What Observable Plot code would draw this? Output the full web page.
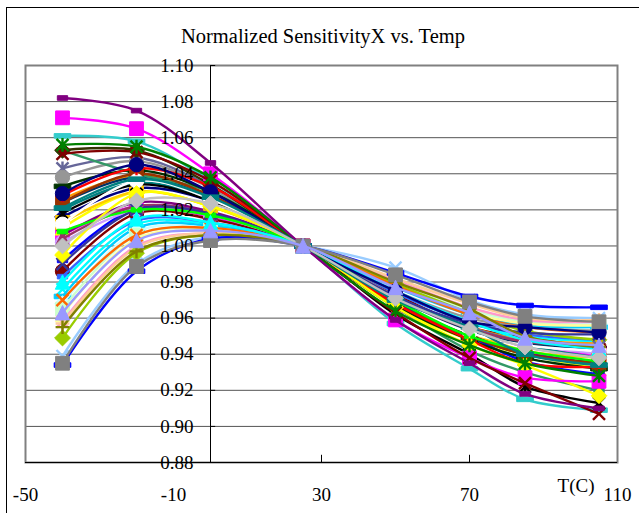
<!DOCTYPE html>
<html>
<head>
<meta charset="utf-8">
<script src="https://cdn.jsdelivr.net/npm/d3@7"></script>
<script src="https://cdn.jsdelivr.net/npm/@observablehq/plot@0.6"></script>
<style>
  body { margin: 0; background: #fff; }
  #wrap { position: relative; width: 639px; height: 513px; overflow: hidden; background: #fff; }
  #border { position: absolute; left: 6px; top: 7px; width: 640px; height: 530px; border: 1px solid #000; box-sizing: border-box; }
  #title { position: absolute; left: 0; top: 25px; width: 646px; text-align: center;
           font-family: "Liberation Serif", "Times New Roman", serif; font-size: 20.5px; color: #000; }
  #chart { position: absolute; left: 0; top: 0; }
</style>
</head>
<body>
<div id="wrap">
  <div id="border"></div>
  <div id="title">Normalized SensitivityX vs. Temp</div>
  <div id="chart"></div>
</div>
<script>
// ---- data ----
const temps = [-40, -20, 0, 25, 50, 70, 85, 105];
const xTicks = [-50, -10, 30, 70, 110];
const xMinorTicks = [30, 70];
const yTicks = [0.88, 0.90, 0.92, 0.94, 0.96, 0.98, 1.00, 1.02, 1.04, 1.06, 1.08, 1.10];

// normalized sensitivity for 48 parts, at each temperature above
const sensitivity = [
  [1.016, 1.032, 1.025, 1, 0.968, 0.950, 0.946, 0.944], // 1
  [1.006, 1.022, 1.016, 1, 0.972, 0.955, 0.944, 0.940], // 2
  [1.010, 1.030, 1.022, 1, 0.966, 0.948, 0.940, 0.932], // 3
  [0.976, 1.012, 1.012, 1, 0.974, 0.958, 0.950, 0.947], // 4
  [1.006, 1.024, 1.019, 1, 0.969, 0.950, 0.941, 0.935], // 5
  [0.986, 1.018, 1.015, 1, 0.973, 0.955, 0.949, 0.944], // 6
  [1.020, 1.035, 1.026, 1, 0.971, 0.954, 0.945, 0.938], // 7
  [0.992, 1.021, 1.018, 1, 0.969, 0.950, 0.936, 0.929], // 8
  [0.972, 1.010, 1.011, 1, 0.977, 0.962, 0.956, 0.955], // 9
  [0.968, 1.008, 1.010, 1, 0.978, 0.964, 0.958, 0.957], // 10
  [0.965, 1.006, 1.009, 1, 0.979, 0.965, 0.958, 0.956], // 11
  [0.962, 1.004, 1.008, 1, 0.978, 0.963, 0.957, 0.956], // 12
  [0.939, 0.990, 1.005, 1, 0.988, 0.970, 0.962, 0.960], // 13
  [0.958, 1.000, 1.007, 1, 0.981, 0.966, 0.959, 0.958], // 14
  [1.002, 1.020, 1.017, 1, 0.972, 0.954, 0.946, 0.940], // 15
  [0.957, 0.999, 1.007, 1, 0.982, 0.968, 0.960, 0.959], // 16
  [0.983, 1.014, 1.013, 1, 0.974, 0.958, 0.951, 0.948], // 17
  [1.061, 1.058, 1.036, 1, 0.957, 0.932, 0.915, 0.909], // 18
  [0.949, 0.996, 1.006, 1, 0.979, 0.963, 0.953, 0.948], // 19
  [1.013, 1.030, 1.022, 1, 0.970, 0.952, 0.942, 0.938], // 20
  [1.026, 1.039, 1.028, 1, 0.972, 0.955, 0.948, 0.946], // 21
  [0.970, 1.006, 1.010, 1, 0.978, 0.962, 0.955, 0.952], // 22
  [1.043, 1.049, 1.033, 1, 0.972, 0.955, 0.947, 0.944], // 23
  [1.038, 1.047, 1.032, 1, 0.975, 0.960, 0.955, 0.953], // 24
  [1.024, 1.038, 1.027, 1, 0.971, 0.953, 0.946, 0.943], // 25
  [1.053, 1.040, 1.030, 1, 0.966, 0.942, 0.930, 0.920], // 26
  [1.033, 1.042, 1.030, 1, 0.967, 0.948, 0.938, 0.932], // 27
  [1.053, 1.053, 1.034, 1, 0.970, 0.950, 0.940, 0.935], // 28
  [1.024, 1.040, 1.028, 1, 0.968, 0.950, 0.940, 0.935], // 29
  [1.004, 1.022, 1.018, 1, 0.971, 0.954, 0.947, 0.944], // 30
  [0.990, 1.020, 1.018, 1, 0.972, 0.957, 0.952, 0.951], // 31
  [1.018, 1.034, 1.025, 1, 0.962, 0.940, 0.922, 0.913], // 32
  [1.012, 1.036, 1.026, 1, 0.970, 0.952, 0.945, 0.942], // 33
  [1.028, 1.043, 1.033, 1, 0.968, 0.948, 0.935, 0.933], // 34
  [1.008, 1.020, 1.017, 1, 0.970, 0.950, 0.942, 0.936], // 35
  [0.934, 0.986, 1.004, 1, 0.985, 0.972, 0.967, 0.966], // 36
  [0.995, 1.029, 1.022, 1, 0.966, 0.945, 0.934, 0.917], // 37
  [1.071, 1.065, 1.040, 1, 0.959, 0.938, 0.927, 0.925], // 38
  [0.980, 1.015, 1.013, 1, 0.975, 0.958, 0.948, 0.943], // 39
  [1.051, 1.052, 1.036, 1, 0.963, 0.938, 0.924, 0.907], // 40
  [1.056, 1.055, 1.038, 1, 0.964, 0.945, 0.935, 0.928], // 41
  [1.029, 1.045, 1.030, 1, 0.975, 0.958, 0.955, 0.952], // 42
  [0.955, 0.997, 1.006, 1, 0.980, 0.965, 0.950, 0.944], // 43
  [1.082, 1.075, 1.046, 1, 0.959, 0.935, 0.918, 0.910], // 44
  [1.021, 1.037, 1.027, 1, 0.970, 0.955, 0.940, 0.934], // 45
  [1.000, 1.025, 1.0235, 1, 0.971, 0.954, 0.944, 0.938], // 46
  [0.935, 0.9886, 1.003, 1, 0.984, 0.969, 0.961, 0.958], // 47
  [0.963, 1.003, 1.0085, 1, 0.977, 0.963, 0.949, 0.945]  // 48
];

// ---- styles (Excel 2003 automatic series palette and marker cycle) ----
const palette = [
  "#000080","#FF00FF","#FFFF00","#00FFFF","#800080","#800000","#008080","#0000FF",
  "#00CCFF","#CCFFFF","#CCFFCC","#FFFF99","#99CCFF","#FF99CC","#CC99FF","#FFCC99",
  "#3366FF","#33CCCC","#99CC00","#FFCC00","#FF9900","#FF6600","#666699","#969696",
  "#003366","#339966","#003300","#333300","#993300","#993366","#333399",
  "#000000","#FFFFFF","#FF0000","#00FF00","#0000FF","#FFFF00","#FF00FF","#00FFFF",
  "#800000","#008000","#000080","#808000","#800080","#008080","#C0C0C0","#808080","#9999FF"
];
const markerCycle = ["diamond","square","triangle","x","star","circle","plus","dash","bar"];

const symbols = {
  diamond: {draw(c, s) { const h = Math.sqrt(s) * 0.55; c.moveTo(0, -h); c.lineTo(h, 0); c.lineTo(0, h); c.lineTo(-h, 0); c.closePath(); }},
  square:  {draw(c, s) { const h = Math.sqrt(s) * 0.48; c.rect(-h, -h, 2 * h, 2 * h); }},
  triangle:{draw(c, s) { const h = Math.sqrt(s) * 0.5; c.moveTo(0, -h); c.lineTo(h, h); c.lineTo(-h, h); c.closePath(); }},
  x:       {draw(c, s) { const h = Math.sqrt(s) * 0.42; c.moveTo(-h, -h); c.lineTo(h, h); c.moveTo(h, -h); c.lineTo(-h, h); }},
  star:    {draw(c, s) { const h = Math.sqrt(s) * 0.42; c.moveTo(-h, -h); c.lineTo(h, h); c.moveTo(h, -h); c.lineTo(-h, h); c.moveTo(0, -h * 1.15); c.lineTo(0, h * 1.15); }},
  circle:  {draw(c, s) { const r = Math.sqrt(s) * 0.5; c.moveTo(r, 0); c.arc(0, 0, r, 0, 2 * Math.PI); c.closePath(); }},
  plus:    {draw(c, s) { const h = Math.sqrt(s) * 0.48; c.moveTo(-h, 0); c.lineTo(h, 0); c.moveTo(0, -h); c.lineTo(0, h); }},
  dash:    {draw(c, s) { const w = Math.sqrt(s) * 0.36, h = Math.sqrt(s) * 0.16; c.rect(-w, -h, 2 * w, 2 * h); }},
  bar:     {draw(c, s) { const w = Math.sqrt(s) * 0.58, h = Math.sqrt(s) * 0.16; c.rect(-w, -h, 2 * w, 2 * h); }}
};
const strokeOnly = new Set(["x", "star", "plus"]);

const seriesMarks = [];
sensitivity.forEach((vals, i) => {
  const pts = temps.map((t, j) => ({t, v: vals[j]}));
  const color = palette[i];
  const m = markerCycle[i % markerCycle.length];
  seriesMarks.push(Plot.line(pts, {x: "t", y: "v", stroke: color, strokeWidth: 2.4, curve: "catmull-rom"}));
  if (strokeOnly.has(m)) {
    seriesMarks.push(Plot.dot(pts, {x: "t", y: "v", symbol: symbols[m], r: 8.1, fill: "none", stroke: color, strokeWidth: 2.4}));
  } else {
    seriesMarks.push(Plot.dot(pts, {x: "t", y: "v", symbol: symbols[m], r: 8.1, fill: color, stroke: color, strokeWidth: 1}));
  }
});

const chart = Plot.plot({
  width: 639,
  height: 513,
  marginLeft: 25,
  marginRight: 22,
  marginTop: 65,
  marginBottom: 51,
  x: {domain: [-50, 110], axis: null},
  y: {domain: [0.88, 1.10], axis: null},
  style: {fontFamily: "'Liberation Serif', 'Times New Roman', serif", fontSize: "19px", background: "transparent", color: "#000"},
  marks: [
    Plot.ruleY(yTicks, {stroke: "#555", strokeWidth: 1}),
    Plot.frame({stroke: "#808080", strokeWidth: 2}),
    Plot.ruleX([0], {stroke: "#000", strokeWidth: 1}),
    Plot.ruleY(yTicks, {x1: 0, x2: 1.4, stroke: "#000", strokeWidth: 1}),
    Plot.ruleY([0.88], {stroke: "#000", strokeWidth: 1.2}),
    Plot.ruleX(xMinorTicks, {y1: 0.88, y2: 0.884, stroke: "#000", strokeWidth: 1}),
    ...seriesMarks,
    Plot.text(yTicks, {x: 0, y: d => d, text: d => d.toFixed(2), textAnchor: "end", dx: -17, fill: "#000", fontSize: 19}),
    Plot.text(xTicks, {x: d => d, frameAnchor: "bottom", dy: 38, text: d => String(d), fill: "#000", fontSize: 19}),
    Plot.text(["T(C)"], {frameAnchor: "bottom-right", dx: -23, dy: 29, text: d => d, fill: "#000", fontSize: 19})
  ]
});
document.getElementById("chart").appendChild(chart);
</script>
</body>
</html>
